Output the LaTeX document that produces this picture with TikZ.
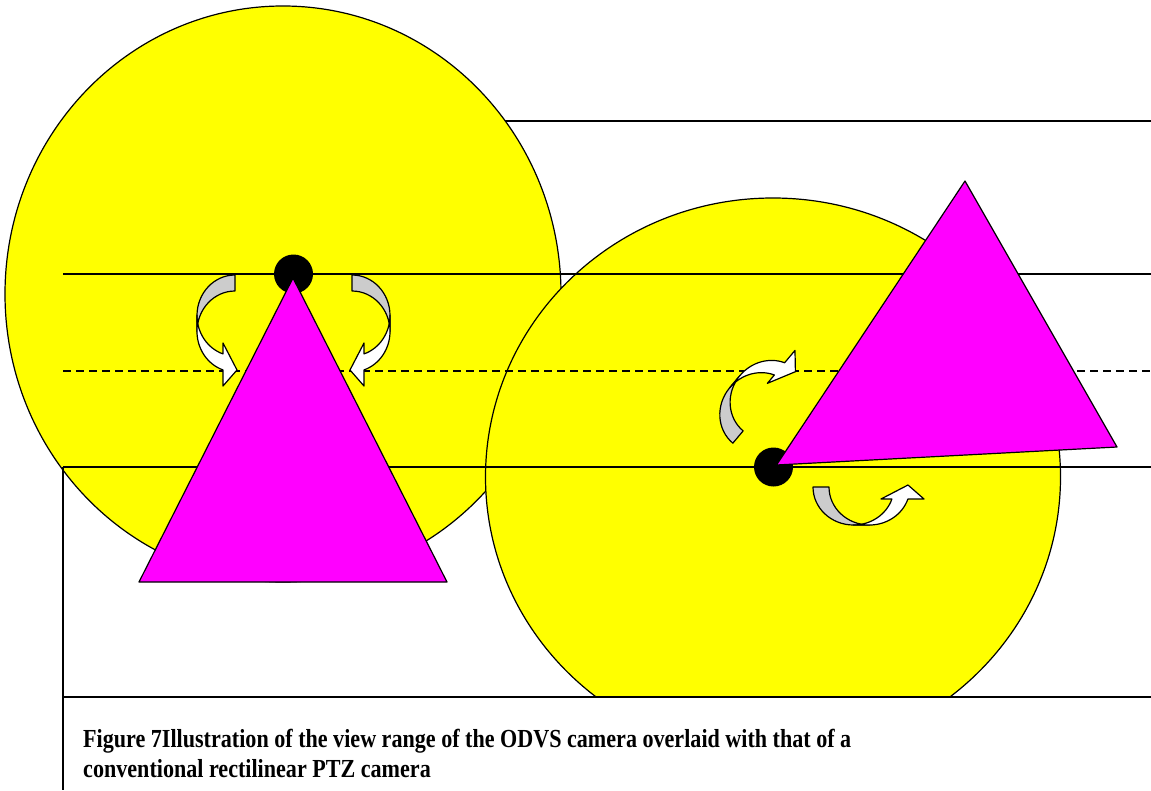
\documentclass[tikz,border=0pt]{standalone}
\usepackage{fontspec}
\newfontfamily\capfont{Liberation Serif}[FakeStretch=0.85]
\definecolor{odvsyellow}{HTML}{FFFF00}
\definecolor{ptzmagenta}{HTML}{FF00FF}
\definecolor{backgrey}{HTML}{CCCCCC}
\tikzset{
  turnarrow/.pic={
    \path[arrowback] (0,-48.5) arc[start angle=270,end angle=180,x radius=38,y radius=40.5]
      -- (-38,8) arc[start angle=180,end angle=270,x radius=38,y radius=40.5] -- cycle;
    \path[arrowfront] (-38,-8) arc[start angle=180,end angle=108.4,x radius=38,y radius=40.5]
      -- (-12,19.5) -- (2,46.5) -- (-12,62.5) -- (-12,46.4)
      arc[start angle=108.4,end angle=180,x radius=38,y radius=40.5] -- cycle;
  }
}
\begin{document}
\begin{tikzpicture}[x=1pt,y=-1pt,line join=round,
  frame/.style={line width=1.3pt},
  viewrange/.style={draw,line width=1.2pt,fill=odvsyellow},
  fov/.style={draw,line width=1.2pt,fill=ptzmagenta},
  arrowback/.style={draw,line width=1.2pt,fill=backgrey},
  arrowfront/.style={draw,line width=1.2pt,fill=white},
  capline/.style={anchor=base west,inner sep=0pt,font=\capfont\bfseries\fontsize{26}{30}\selectfont}]
  \useasboundingbox (0,0) rectangle (1151,790);
  \draw[frame] (480,121) -- (1151,121);
  \path[viewrange] (283,294) ellipse[x radius=278,y radius=288];
  \begin{scope}
    \clip (400,150) rectangle (1151,697);
    \path[viewrange] (773,477) ellipse[x radius=287.5,y radius=279];
  \end{scope}
  \draw[frame] (63,274) -- (1151,274);
  \draw[frame,dash pattern=on 8pt off 5pt] (63,371) -- (1151,371);
  \draw[frame] (63,467) -- (1151,467);
  \draw[frame] (63,467) -- (63,790) (63,697) -- (1151,697);
  \coordinate (odvs) at (293.5,274);
  \coordinate (ptz) at (773.5,467);
  \fill (odvs) circle[radius=19.5];
  \fill (ptz) circle[radius=19.5];
  \path[fov] (293,278) -- (447,582) -- (139,582) -- cycle;
  \path[fov] (776.5,465) -- (965,181) -- (1117,447) -- cycle;
  \pic at (235,323.5) {turnarrow};
  \pic[xscale=-1] at (352,323.5) {turnarrow};
  \pic[rotate=140,xscale=-1] at (764,406) {turnarrow};
  \pic[rotate=90] at (861.5,487) {turnarrow};
  \node[capline] (cap1) at (83,747) {Figure 7Illustration of the view range of the ODVS camera overlaid with that of a};
  \node[capline] (cap2) at (83,777) {conventional rectilinear PTZ camera};
\end{tikzpicture}
\end{document}
